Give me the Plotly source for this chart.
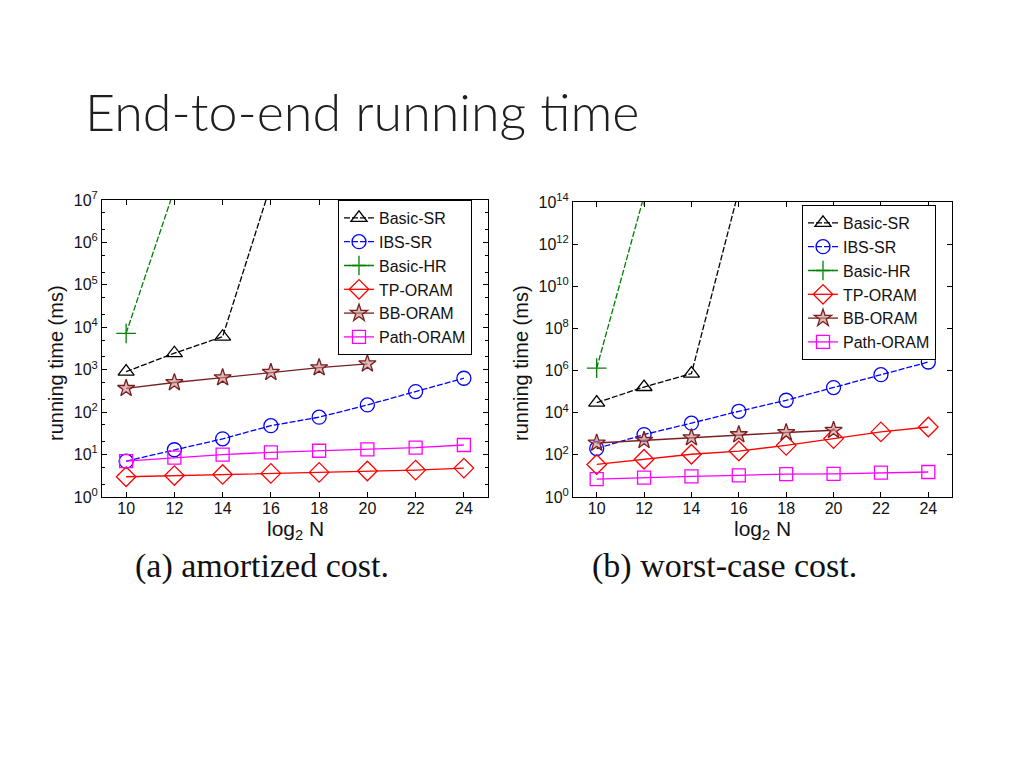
import plotly.graph_objects as go

# ---------------- data ----------------
x_all = [10, 12, 14, 16, 18, 20, 22, 24]
x_sr = [10, 12, 14, 16]
x_hr = [10, 12]
x_bb = [10, 12, 14, 16, 18, 20]

# (a) amortized cost (ms)
basic_sr_a = [900, 2450, 6000, 2.3e7]
basic_hr_a = [7200, 1.8e7]
ibs_sr_a = [7.0, 13, 23.5, 48, 76, 148, 305, 630]
tp_oram_a = [3.0, 3.2, 3.4, 3.6, 3.8, 4.1, 4.3, 4.8]
bb_oram_a = [365, 500, 650, 870, 1120, 1380]
path_oram_a = [7.0, 8.5, 10, 11.3, 12.3, 13.3, 14.5, 16.8]

# (b) worst-case cost (ms)
basic_sr_w = [3.0e4, 1.66e5, 7.2e5, 3.6e14]
basic_hr_w = [1.3e6, 2.0e14]
ibs_sr_w = [200, 920, 3200, 11700, 39000, 1.56e5, 6.4e5, 2.55e6]
tp_oram_w = [35, 62, 107, 152, 283, 590, 1230, 2100]
bb_oram_w = [365, 490, 660, 920, 1150, 1470]
path_oram_w = [7, 8.3, 9.6, 10.7, 12.3, 12.5, 14.4, 15.4]

series_names = ["Basic-SR", "IBS-SR", "Basic-HR", "TP-ORAM", "BB-ORAM", "Path-ORAM"]
x_ticks = [10, 12, 14, 16, 18, 20, 22, 24]
y_exp_a = [0, 1, 2, 3, 4, 5, 6, 7]
y_exp_w = [0, 2, 4, 6, 8, 10, 12, 14]

title_text = "End-to-end running time"
caption_a = "(a) amortized cost."
caption_b = "(b) worst-case cost."
y_title = "running time (ms)"
x_title = "log<sub>2</sub> N"

# ---------------- styling ----------------
styles = {
    "Basic-SR": dict(color="#000000", symbol="triangle-up-open", dash="6px,2px", size=14),
    "IBS-SR": dict(color="#0000ff", symbol="circle-open", dash="6px,2px", size=14),
    "Basic-HR": dict(color="#008000", symbol="cross-thin-open", dash="6px,2px", size=14),
    "TP-ORAM": dict(color="#ff0000", symbol="diamond-open", dash="solid", size=15),
    "BB-ORAM": dict(color="#7a1f1f", symbol="star", dash="solid", size=13),
    "Path-ORAM": dict(color="#ff00ff", symbol="square-open", dash="solid", size=13),
}

FONT = "Liberation Sans, Arial, sans-serif"
W, H = 1024, 768

fig = go.Figure()

def add_series(name, xs, ys, xaxis, yaxis, legend):
    st = styles[name]
    marker = dict(symbol=st["symbol"], size=st["size"], color=st["color"],
                  line=dict(width=1.3, color=st["color"]))
    if name == "BB-ORAM":
        marker = dict(symbol="star", size=st["size"], color="rgba(200,140,140,0.6)",
                      line=dict(width=1.3, color=st["color"]))
    fig.add_trace(go.Scatter(
        x=xs, y=ys, name=name, mode="lines+markers",
        line=dict(color=st["color"], width=1.3, dash=st["dash"]),
        marker=marker, xaxis=xaxis, yaxis=yaxis, legend=legend,
    ))

data_a = {
    "Basic-SR": (x_sr, basic_sr_a), "IBS-SR": (x_all, ibs_sr_a),
    "Basic-HR": (x_hr, basic_hr_a), "TP-ORAM": (x_all, tp_oram_a),
    "BB-ORAM": (x_bb, bb_oram_a), "Path-ORAM": (x_all, path_oram_a),
}
data_w = {
    "Basic-SR": (x_sr, basic_sr_w), "IBS-SR": (x_all, ibs_sr_w),
    "Basic-HR": (x_hr, basic_hr_w), "TP-ORAM": (x_all, tp_oram_w),
    "BB-ORAM": (x_bb, bb_oram_w), "Path-ORAM": (x_all, path_oram_w),
}
for n in series_names:
    add_series(n, *data_a[n], "x", "y", "legend")
for n in series_names:
    add_series(n, *data_w[n], "x2", "y2", "legend2")

# target screen pixel -> paper fraction (page has an 8px body margin)
def px(xp):
    return (xp - 8) / W

def py(yp):
    return 1 - (yp - 8) / H

axis_common = dict(showline=True, linecolor="black", linewidth=1, mirror="ticks",
                   ticks="inside", ticklen=5, tickcolor="black", showgrid=False,
                   zeroline=False, automargin=False,
                   tickfont=dict(family=FONT, size=16, color="#111"))

fig.update_layout(
    width=W, height=H,
    margin=dict(l=0, r=0, t=0, b=0, pad=0),
    paper_bgcolor="white", plot_bgcolor="white",
    showlegend=True,
    xaxis=dict(domain=[px(102), px(488)], range=[9, 25], tickvals=x_ticks,
               ticklabelstandoff=-3, anchor="y", **axis_common),
    yaxis=dict(domain=[py(497), py(200)], type="log", range=[0, 7],
               tickvals=[10 ** e for e in y_exp_a],
               ticktext=[f"10<sup>{e}</sup>" for e in y_exp_a],
               minor=dict(ticks="inside", ticklen=3, tickcolor="black"),
               anchor="x", **axis_common),
    xaxis2=dict(domain=[px(573), px(952)], range=[9, 25], tickvals=x_ticks,
                ticklabelstandoff=-3, anchor="y2", **axis_common),
    yaxis2=dict(domain=[py(497), py(202)], type="log", range=[0, 14],
                tickvals=[10 ** e for e in y_exp_w],
                ticktext=[f"10<sup>{e}</sup>" for e in y_exp_w],
                anchor="x2", **axis_common),
    legend=dict(x=px(338), y=py(200), xanchor="left", yanchor="top",
                bgcolor="white", bordercolor="black", borderwidth=1,
                font=dict(family=FONT, size=16, color="#111"),
                itemwidth=30, tracegroupgap=0),
    legend2=dict(x=px(802), y=py(205), xanchor="left", yanchor="top",
                 bgcolor="white", bordercolor="black", borderwidth=1,
                 font=dict(family=FONT, size=16, color="#111"),
                 itemwidth=30, tracegroupgap=0),
)

annotations = [
    dict(text=title_text, x=px(83), y=py(111), xanchor="left", yanchor="middle",
         font=dict(family="Lato, Open Sans, sans-serif", size=52, color="#1f1f1f", weight=300)),
    dict(text=y_title, x=px(56), y=py(363), textangle=-90, xanchor="center", yanchor="middle",
         font=dict(family=FONT, size=20, color="#111")),
    dict(text=y_title, x=px(521), y=py(363), textangle=-90, xanchor="center", yanchor="middle",
         font=dict(family=FONT, size=20, color="#111")),
    dict(text=x_title, x=px(295), y=py(530), xanchor="center", yanchor="middle",
         font=dict(family=FONT, size=21, color="#111")),
    dict(text=x_title, x=px(762), y=py(530), xanchor="center", yanchor="middle",
         font=dict(family=FONT, size=21, color="#111")),
    dict(text=caption_a, x=px(262), y=py(566), xanchor="center", yanchor="middle",
         font=dict(family="Liberation Serif, Times New Roman, serif", size=34, color="#111")),
    dict(text=caption_b, x=px(724), y=py(566), xanchor="center", yanchor="middle",
         font=dict(family="Liberation Serif, Times New Roman, serif", size=34, color="#111")),
]
for a in annotations:
    a.update(xref="paper", yref="paper", showarrow=False)
fig.update_layout(annotations=annotations)

fig.write_html("out.html")
